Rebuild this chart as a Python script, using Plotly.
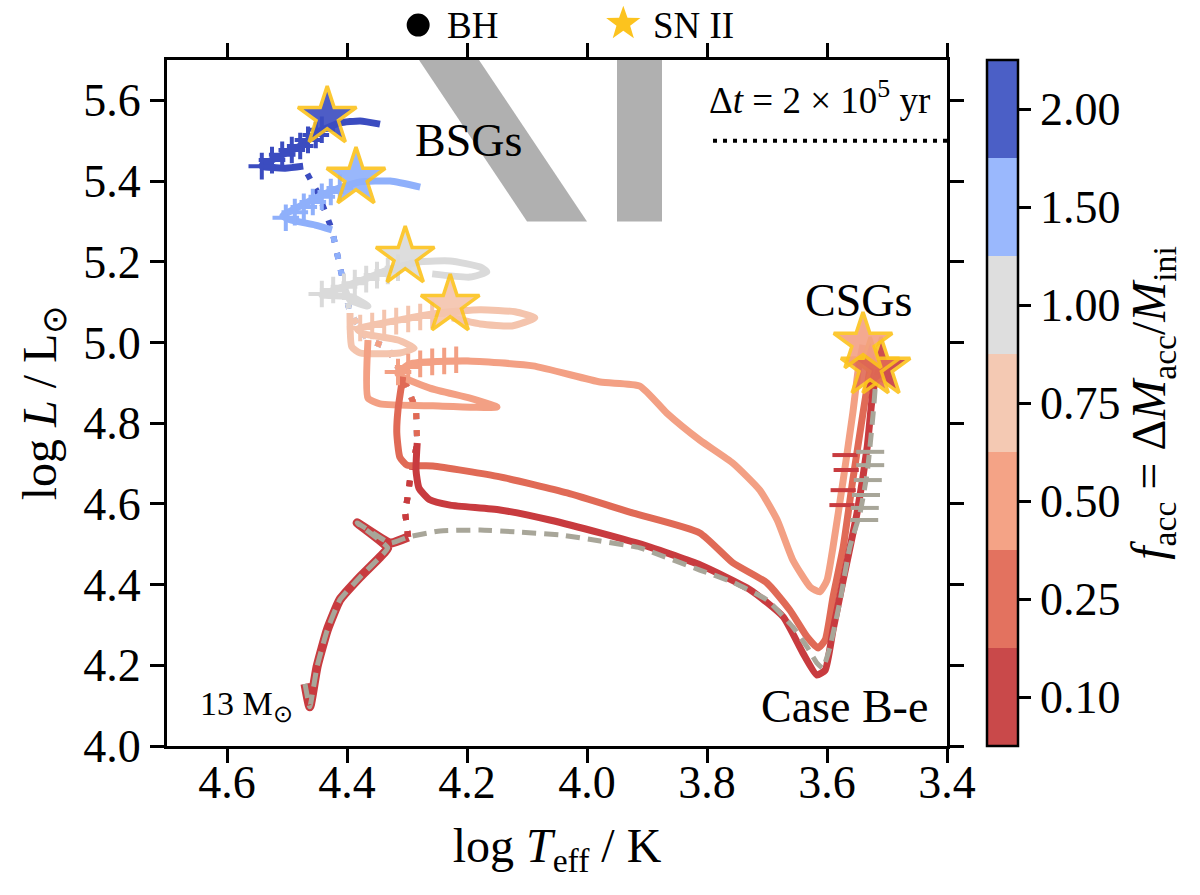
import math
import plotly.graph_objects as go

FONT = "Liberation Serif"
GOLD = "#fcc31e"

# colour bar: accreted mass fraction f_acc, from bottom to top
F_ACC_LABELS = ["0.10", "0.25", "0.50", "0.75", "1.00", "1.50", "2.00"]
F_ACC_COLORS = ["#c9494a", "#e3725f", "#f4a386", "#f4c9b3", "#dedede", "#9ab8fd", "#4b5fc6"]
TRACK_COLORS = ["#c83b3f", "#e06a56", "#f3a084", "#f4c4ad", "#dadada", "#8fb0fb", "#3b4cc0"]

# shared main sequence of the 13 Msun model (with the little hook at the ZAMS)
MS_T = [4.470, 4.462, 4.450, 4.433, 4.412, 4.378, 4.345, 4.332, 4.383, 4.328, 4.298]
MS_L = [4.154, 4.097, 4.196, 4.287, 4.362, 4.419, 4.468, 4.491, 4.553, 4.503, 4.518]

# non-accreting reference model after the main sequence
REF_T = [4.298, 4.245, 4.178, 4.112, 4.045, 3.978, 3.912, 3.812, 3.757, 3.700, 3.657,
         3.633, 3.617, 3.607, 3.595, 3.578, 3.562, 3.545, 3.533, 3.523, 3.518]
REF_L = [4.518, 4.533, 4.535, 4.530, 4.523, 4.508, 4.491, 4.436, 4.406, 4.362, 4.295,
         4.245, 4.206, 4.193, 4.245, 4.362, 4.493, 4.577, 4.677, 4.825, 4.919]

# accretion phase (dotted), shared; model i leaves it at index ACC_END[i]
ACC_T = [4.298, 4.303, 4.295, 4.283, 4.285, 4.307, 4.333, 4.365, 4.395, 4.403, 4.413, 4.425, 4.447, 4.473]
ACC_L = [4.518, 4.577, 4.659, 4.751, 4.835, 4.915, 4.989, 5.006, 5.073, 5.130, 5.197, 5.279, 5.366, 5.437]
ACC_END = [3, 5, 7, 8, 9, 11, 13]

# tracks after accretion stops
T_010 = [4.283, 4.285, 4.280, 4.262, 4.228, 4.145, 4.062, 3.978, 3.895, 3.812, 3.728, 3.673,
         3.640, 3.617, 3.603, 3.590, 3.573, 3.550, 3.533, 3.523, 3.513]
L_010 = [4.751, 4.684, 4.639, 4.610, 4.597, 4.585, 4.560, 4.528, 4.493, 4.449, 4.387, 4.320,
         4.230, 4.176, 4.188, 4.287, 4.411, 4.577, 4.741, 4.882, 4.932]
T_025 = [4.307, 4.315, 4.317, 4.312, 4.300, 4.257, 4.145, 4.033, 3.923, 3.812, 3.757, 3.700,
         3.662, 3.633, 3.615, 3.603, 3.590, 3.573, 3.557, 3.540, 3.528]
L_025 = [4.915, 4.833, 4.776, 4.716, 4.696, 4.694, 4.667, 4.627, 4.577, 4.528, 4.454, 4.404,
         4.337, 4.270, 4.243, 4.263, 4.369, 4.493, 4.659, 4.825, 4.937]
T_050 = [4.365, 4.365, 4.345, 4.257, 4.150, 4.195, 4.262, 4.315, 4.295, 4.200, 4.090, 3.978,
         3.912, 3.867, 3.812, 3.757, 3.712, 3.683, 3.657, 3.628, 3.612, 3.600, 3.590, 3.573,
         3.557, 3.548, 3.540]
L_050 = [5.006, 4.862, 4.848, 4.843, 4.840, 4.862, 4.887, 4.922, 4.947, 4.954, 4.942, 4.902,
         4.892, 4.825, 4.758, 4.701, 4.634, 4.560, 4.461, 4.394, 4.382, 4.411, 4.493, 4.659,
         4.825, 4.932, 4.994]
T_075 = [4.395, 4.392, 4.378, 4.312, 4.288, 4.315, 4.370, 4.383, 4.312, 4.245, 4.178, 4.120,
         4.087, 4.125, 4.178, 4.225]
L_075 = [5.073, 4.989, 4.974, 4.974, 4.986, 5.006, 5.021, 5.033, 5.056, 5.073, 5.081, 5.076,
         5.061, 5.041, 5.046, 5.061]
T_100 = [4.403, 4.395, 4.365, 4.392, 4.442, 4.412, 4.370, 4.328, 4.278, 4.228, 4.178, 4.167,
         4.195, 4.258]
L_100 = [5.130, 5.105, 5.090, 5.113, 5.118, 5.135, 5.157, 5.182, 5.200, 5.202, 5.187, 5.175,
         5.162, 5.170]
T_150 = [4.425, 4.453, 4.495, 4.507, 4.478, 4.445, 4.412, 4.378, 4.328, 4.278]
L_150 = [5.279, 5.291, 5.304, 5.314, 5.338, 5.363, 5.383, 5.398, 5.400, 5.385]
T_200 = [4.473, 4.503, 4.542, 4.512, 4.478, 4.445, 4.412, 4.378, 4.345]
L_200 = [5.437, 5.432, 5.437, 5.462, 5.487, 5.524, 5.544, 5.549, 5.541]
TRACKS = [(T_010, L_010), (T_025, L_025), (T_050, L_050), (T_075, L_075),
          (T_100, L_100), (T_150, L_150), (T_200, L_200)]

# time markers (+) on the blue supergiant parts
PLUS_050_T = [4.315, 4.298, 4.278, 4.258, 4.238, 4.218]
PLUS_050_L = [4.927, 4.939, 4.947, 4.952, 4.954, 4.957]
PLUS_075_T = [4.378, 4.358, 4.338, 4.318, 4.298, 4.278, 4.258]
PLUS_075_L = [5.036, 5.041, 5.048, 5.053, 5.058, 5.063, 5.068]
PLUS_100_T = [4.442, 4.423, 4.405, 4.387, 4.368, 4.350, 4.332, 4.315]
PLUS_100_L = [5.120, 5.130, 5.138, 5.147, 5.157, 5.167, 5.177, 5.185]
PLUS_150_T = [4.502, 4.487, 4.472, 4.457, 4.442, 4.427, 4.412]
PLUS_150_L = [5.309, 5.323, 5.336, 5.348, 5.361, 5.373, 5.383]
PLUS_200_T = [4.542, 4.525, 4.508, 4.492, 4.478, 4.465, 4.452, 4.442]
PLUS_200_L = [5.437, 5.452, 5.465, 5.477, 5.487, 5.502, 5.514, 5.527]
PLUS = [(2, PLUS_050_T, PLUS_050_L), (3, PLUS_075_T, PLUS_075_L), (4, PLUS_100_T, PLUS_100_L),
        (5, PLUS_150_T, PLUS_150_L), (6, PLUS_200_T, PLUS_200_L)]

# time markers on the red supergiant branch
RSG_REF_T = [3.528, 3.528, 3.532, 3.535, 3.537, 3.538]
RSG_REF_L = [4.729, 4.696, 4.659, 4.622, 4.590, 4.560]
RSG_010_T = [3.570, 3.568, 3.573, 3.575]
RSG_010_L = [4.721, 4.684, 4.634, 4.597]

# core collapse (SN II) positions
SN_T = [3.510, 3.528, 3.540, 4.228, 4.303, 4.385, 4.433]
SN_L = [4.937, 4.937, 4.999, 5.093, 5.212, 5.408, 5.559]

# grey regions of observed BSG / gap stars
BAND1_T = [4.28, 4.18, 4.00, 4.10]
BAND1_L = [5.70, 5.70, 5.30, 5.30]
BAND2_T = [3.95, 3.875, 3.875, 3.95]
BAND2_L = [5.70, 5.70, 5.30, 5.30]

# time-step scale bar
DT_T = [3.79, 3.40]
DT_L = [5.50, 5.50]

fig = go.Figure()

for bt, bl in [(BAND1_T, BAND1_L), (BAND2_T, BAND2_L)]:
    fig.add_trace(go.Scatter(x=bt, y=bl, fill="toself", fillcolor="#b0b0b0", mode="none",
                             showlegend=False, hoverinfo="skip"))

# dotted accretion phases, longest first so the short ones stay on top
for i in reversed(range(len(TRACKS))):
    k = ACC_END[i] + 1
    fig.add_trace(go.Scatter(x=ACC_T[:k], y=ACC_L[:k], mode="lines", showlegend=False,
                             line=dict(color=TRACK_COLORS[i], width=6, dash="6px,11px")))

for i in reversed(range(len(TRACKS))):
    t, l = TRACKS[i]
    fig.add_trace(go.Scatter(x=t, y=l, mode="lines", showlegend=False,
                             line=dict(color=TRACK_COLORS[i], width=7, shape="spline", smoothing=0.5)))

for i, pt, pl in PLUS:
    fig.add_trace(go.Scatter(x=pt, y=pl, mode="markers", showlegend=False,
                             marker=dict(symbol="cross-thin", size=19,
                                         line=dict(color=TRACK_COLORS[i], width=4))))

fig.add_trace(go.Scatter(x=RSG_010_T, y=RSG_010_L, mode="markers", showlegend=False,
                         marker=dict(symbol="line-ew", size=18, line=dict(color=TRACK_COLORS[0], width=4))))

# main sequence of the least accreting model underneath the reference model
fig.add_trace(go.Scatter(x=MS_T, y=MS_L, mode="lines", showlegend=False,
                         line=dict(color=TRACK_COLORS[0], width=9, shape="spline", smoothing=0.4)))
fig.add_trace(go.Scatter(x=MS_T + REF_T[1:], y=MS_L + REF_L[1:], mode="lines", showlegend=False,
                         line=dict(color="#a8a699", width=5, dash="14px,8px", shape="spline", smoothing=0.4)))
fig.add_trace(go.Scatter(x=RSG_REF_T, y=RSG_REF_L, mode="markers", showlegend=False,
                         marker=dict(symbol="line-ew", size=20, line=dict(color="#a8a699", width=4))))

fig.add_trace(go.Scatter(x=DT_T, y=DT_L, mode="lines", showlegend=False,
                         line=dict(color="black", width=4, dash="4px,6px")))

fig.add_trace(go.Scatter(x=SN_T, y=SN_L, mode="markers", showlegend=False,
                         marker=dict(symbol="star", size=44, color=TRACK_COLORS, opacity=0.9,
                                     line=dict(color=GOLD, width=3.5))))

# colour bar
n = len(F_ACC_COLORS)
scale = []
for i, c in enumerate(F_ACC_COLORS):
    scale += [[i / n, c], [(i + 1) / n, c]]
fig.add_trace(go.Scatter(
    x=[None], y=[None], mode="markers", showlegend=False, hoverinfo="skip",
    marker=dict(color=[0], cmin=0, cmax=n, colorscale=scale, showscale=True,
                colorbar=dict(x=1.051, xanchor="left", xpad=0, y=0.5, yanchor="middle", ypad=0,
                              len=1, lenmode="fraction", thickness=31,
                              outlinewidth=2.5, outlinecolor="black",
                              tickvals=[i + 0.5 for i in range(n)], ticktext=F_ACC_LABELS,
                              ticks="outside", ticklen=12, tickwidth=2.5, tickcolor="black",
                              tickfont=dict(family=FONT, size=46, color="black"),
                              title=dict(text="<i>f</i><sub>acc</sub> = Δ<i>M</i><sub>acc</sub>/<i>M</i><sub>ini</sub>",
                                         side="right", font=dict(family=FONT, size=48, color="black"))))))

axis_style = dict(showline=True, linecolor="black", linewidth=3, mirror="ticks", ticks="outside",
                  ticklen=14, tickwidth=2.5, tickcolor="black", showgrid=False, zeroline=False,
                  automargin=False, tickfont=dict(family=FONT, size=46, color="black"))
fig.update_xaxes(range=[4.7, 3.4], tick0=3.4, dtick=0.2, tickformat=".1f", ticklabelstandoff=-20,
                 title=dict(text="log <i>T</i><sub>eff</sub> / K", font=dict(family=FONT, size=48, color="black"),
                            standoff=22), **axis_style)
fig.update_yaxes(range=[4.0, 5.7], tick0=4.0, dtick=0.2, tickformat=".1f",
                 title=dict(text="log <i>L</i> / L<sub>⊙</sub>", font=dict(family=FONT, size=48, color="black"),
                            standoff=12), **axis_style)

txt = dict(family=FONT, color="black")
annotations = [
    dict(x=4.198, y=5.50, text="BSGs", font=dict(size=46, **txt)),
    dict(x=3.548, y=5.105, text="CSGs", font=dict(size=46, **txt)),
    dict(x=3.428, y=4.099, text="Case B-e", xanchor="right", font=dict(size=46, **txt)),
    dict(x=4.487, y=4.099, text="13 M<sub>⊙</sub>", xanchor="right", font=dict(size=34, **txt)),
    dict(x=3.425, y=5.606, text="Δ<i>t</i> = 2 × 10<sup>5</sup> yr", xanchor="right", font=dict(size=37, **txt)),
]
for a in annotations:
    a.update(xref="x", yref="y", showarrow=False)

# marker key above the frame: labels as text, symbols as pixel-sized shapes
annotations += [
    dict(x=0.357, y=1.051, text="BH", font=dict(size=37, **txt), xanchor="left"),
    dict(x=0.621, y=1.051, text="SN II", font=dict(size=37, **txt), xanchor="left"),
]
for a in annotations[5:]:
    a.update(xref="paper", yref="paper", showarrow=False, yanchor="middle")

star_pts = []
for k in range(10):
    r = 18 if k % 2 == 0 else 7.2
    ang = math.pi / 2 + k * math.pi / 5
    star_pts.append(f"{r * math.cos(ang):.2f},{r * math.sin(ang):.2f}")
key_shapes = [
    dict(type="circle", xref="paper", yref="paper", xsizemode="pixel", ysizemode="pixel",
         xanchor=0.322, yanchor=1.051, x0=-11.5, x1=11.5, y0=-11.5, y1=11.5,
         fillcolor="black", line=dict(width=0)),
    dict(type="path", xref="paper", yref="paper", xsizemode="pixel", ysizemode="pixel",
         xanchor=0.585, yanchor=1.053, path="M " + " L ".join(star_pts) + " Z",
         fillcolor=GOLD, line=dict(width=0)),
]

fig.update_layout(width=1200, height=895, margin=dict(l=167, r=253, t=60, b=149),
                  plot_bgcolor="white", paper_bgcolor="white", annotations=annotations,
                  shapes=key_shapes, font=dict(family=FONT, color="black"))

# drop the browser's default body margin so the figure fills the window exactly
fig.write_html("out.html", config={"displayModeBar": False},
               post_script="document.body.style.margin = '0';")
